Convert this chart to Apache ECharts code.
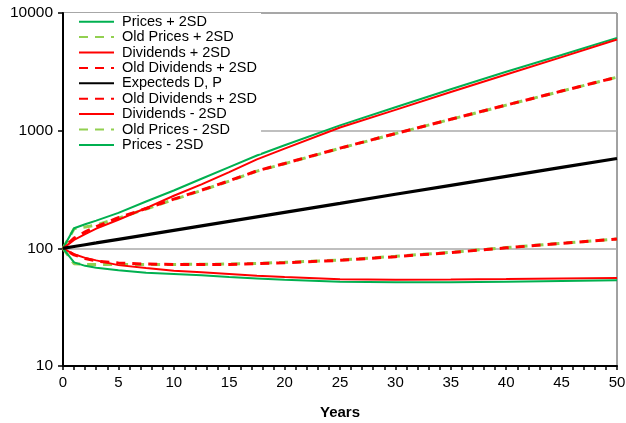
<!DOCTYPE html>
<html><head><meta charset="utf-8">
<script src="https://cdn.jsdelivr.net/npm/echarts@6/dist/echarts.min.js"></script>
<style>html,body{margin:0;padding:0;background:#fff}#c{width:626px;height:423px}</style>
</head><body><div id="c"></div>
<script>
const years       = [0, 1, 2, 3, 5, 7.5, 10, 12.5, 15, 17.5, 20, 25, 30, 35, 40, 45, 50];
const pricesUp    = [100, 148, 160, 172, 200, 250, 310, 390, 490, 615, 752, 1110, 1580, 2250, 3170, 4400, 6150];
const oldPricesUp = [100, 147, 152, 158, 180, 216, 260, 310, 373, 453, 524, 708, 943, 1248, 1648, 2168, 2848];
const divUp       = [100, 118, 132, 147, 175, 220, 280, 350, 445, 570, 703, 1065, 1503, 2130, 3000, 4220, 5950];
const oldDivUp    = [100, 122, 138, 153, 182, 218, 262, 312, 375, 455, 526, 710, 945, 1250, 1650, 2170, 2850];
const expected    = [100, 103.6, 107.3, 111.1, 119.2, 130.2, 142.2, 155.3, 169.6, 185.2, 202.2, 241, 288, 343, 409, 488, 580];
const oldDivDown  = [100, 88, 82, 78, 75, 73.5, 73, 72.8, 73, 74, 75.5, 79, 85, 92, 101, 110, 120];
const divDown     = [100, 89, 83, 79, 72, 68, 64.5, 62.5, 60.5, 58.5, 57, 54.5, 54, 54.3, 54.8, 55.4, 56];
const oldPricesDown = [100, 74, 73, 73, 73, 73, 73, 73.2, 73.6, 74.5, 76, 79.5, 85.5, 92.5, 101.5, 110.5, 120];
const pricesDown  = [100, 76, 71, 68.5, 65, 62, 60.5, 59, 57, 55.5, 54, 52, 51.5, 51.5, 52, 52.7, 53.5];
const yTicks = [10, 100, 1000, 10000];

const GREEN = '#00b050', LGREEN = '#92d050', RED = '#ff0000';
const pair = arr => years.map((y, i) => [y, arr[i]]);
function s(name, arr, color, width, dashed, offset, z) {
  return {
    name, type: 'line', data: pair(arr), symbol: 'none', z: z,
    lineStyle: { color, width, type: dashed ? [9, 7] : 'solid', dashOffset: offset || 0, cap: 'butt' },
    itemStyle: { color }
  };
}
const series = [
  s('Prices + 2SD', pricesUp, GREEN, 2, false, 0, 3),
  s('Old Prices + 2SD', oldPricesUp, LGREEN, 3, true, 0, 2),
  s('Dividends + 2SD', divUp, RED, 2, false, 0, 3),
  s('Old Dividends + 2SD', oldDivUp, RED, 3, true, 8, 2.5),
  s('Expecteds D, P', expected, '#000', 3.2, false, 0, 4),
  s('Old Dividends + 2SD ', oldDivDown, RED, 3, true, 8, 2.5),
  s('Dividends - 2SD', divDown, RED, 2, false, 0, 3),
  s('Old Prices - 2SD', oldPricesDown, LGREEN, 3, true, 0, 2),
  s('Prices - 2SD', pricesDown, GREEN, 2, false, 0, 3)
];

const chart = echarts.init(document.getElementById('c'), null, { renderer: 'canvas' });
const FONT = 'Liberation Sans, Arial, Helvetica, sans-serif';
chart.setOption({
  animation: false,
  textStyle: { fontFamily: FONT },
  grid: { left: 63, right: 9, top: 13, bottom: 57, containLabel: false, outerBoundsMode: 'none',
          show: true, borderColor: '#444', borderWidth: 1 },
  legend: {
    orient: 'vertical', left: 64, top: 13,
    padding: [1, 0, 1, 14], backgroundColor: '#fff',
    itemWidth: 35, itemHeight: 12, itemGap: 0,
    itemStyle: { opacity: 0 },
    textStyle: { fontSize: 14.5, lineHeight: 15.4, color: '#000', fontFamily: FONT, padding: [0, 0, 0, 3] },
    data: series.map(x => ({ name: x.name, lineStyle: { dashOffset: 0 } }))
  },
  xAxis: {
    type: 'value', min: 0, max: 50, interval: 1,
    name: 'Years', nameLocation: 'middle', nameGap: 39,
    nameTextStyle: { fontWeight: 'bold', fontSize: 15, color: '#000' },
    axisLine: { lineStyle: { color: '#000', width: 2 } },
    axisTick: { inside: false, length: 4, lineStyle: { color: '#000', width: 1.5 } },
    axisLabel: { fontSize: 15, color: '#000', margin: 9, formatter: v => (v % 5 === 0 ? String(v) : '') },
    splitLine: { show: false }
  },
  yAxis: {
    type: 'log', logBase: 10, min: 10, max: 10000,
    axisLine: { show: true, lineStyle: { color: '#000', width: 2 } },
    axisTick: { show: true, inside: false, length: 5, lineStyle: { color: '#000', width: 1.5 } },
    axisLabel: { fontSize: 15.5, color: '#000', margin: 10, formatter: v => (yTicks.includes(Math.round(v)) ? String(Math.round(v)) : '') },
    splitLine: { show: true, lineStyle: { color: '#aaa', width: 1.5 } }
  },
  series
});
</script>
</body></html>
